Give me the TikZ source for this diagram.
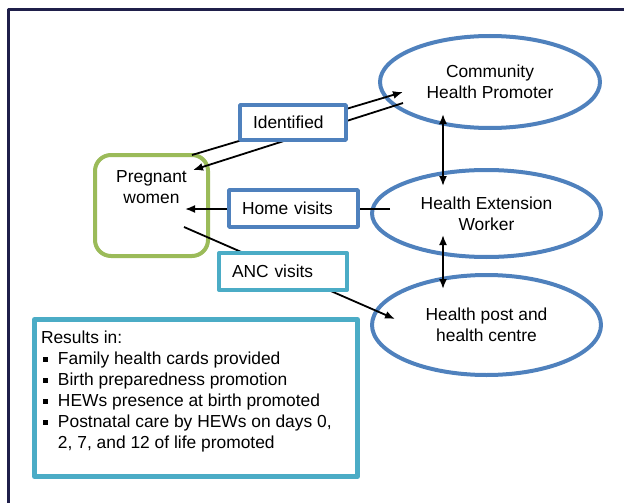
\documentclass[tikz,border=0pt]{standalone}
\usepackage{fontspec}
\setmainfont{Liberation Sans}
\usepackage{xcolor}
\usetikzlibrary{shapes,arrows,arrows.meta}
\definecolor{actorblue}{HTML}{4F81BD}
\definecolor{visitteal}{HTML}{4BACC6}
\definecolor{womengreen}{HTML}{9BBB59}
\definecolor{framenavy}{HTML}{1F1F4A}
\newcommand{\sqbullet}{\makebox[17pt][l]{\hspace{2pt}\rule[3pt]{5pt}{5pt}}}

\begin{document}
\begin{tikzpicture}
    [x=1pt,y=-1pt,line join=round,
     every node/.style={font=\fontsize{17.4}{21}\selectfont,outer sep=0pt},
     actor/.style={ellipse,draw=actorblue,line width=4pt,inner sep=0pt,align=center},
     visitbox/.style={rectangle,draw=actorblue,fill=white,line width=3.5pt,inner xsep=13pt,inner ysep=0pt,align=left},
     conn/.style={-{Latex[length=10pt,width=8pt]},line width=1.8pt},
     twoway/.style={{Latex[length=10pt,width=8pt]}-{Latex[length=10pt,width=8pt]},line width=1.8pt}]
\useasboundingbox (0,0) rectangle (624,503);
%outer frame
\draw[framenavy,line width=3pt] (8,503) -- (8,10) -- (624,10);

%the three actors
\node[actor,minimum width=220pt,minimum height=92pt] (chp) at (490,82) {Community\\Health Promoter};
\node[actor,minimum width=229pt,minimum height=87pt] (hew) at (486.5,213.5) {Health Extension\\Worker};
\node[actor,minimum width=229pt,minimum height=100pt] (hphc) at (486.5,325) {Health post and\\health centre};

%pregnant women
\node[draw=womengreen,line width=4pt,rounded corners=16pt,minimum width=113pt,minimum height=101pt,
      label={[anchor=north,yshift=-16pt,align=center,inner sep=0pt]north:{Pregnant\\women}}] (pw) at (151.5,205.5) {};

%connectors
\draw[conn] ([shift={(40.5,0)}]pw.north) -- ([shift={(-87,10)}]chp.center);
\draw[conn] ([shift={(-87,21)}]chp.center) -- ([shift={(41.5,-35.5)}]pw.center);
\draw[conn] ([shift={(-96.5,-4.5)}]hew.center) -- ([shift={(33.5,3.5)}]pw.center);
\draw[conn] ([shift={(32.5,21.5)}]pw.center) -- ([shift={(-91.5,-6)}]hphc.center);
\draw[twoway] ([shift={(-47,32)}]chp.center) -- ([shift={(-43.5,-27.5)}]hew.center);
\draw[twoway] ([shift={(-43.5,21.5)}]hew.center) -- ([shift={(-43.5,-36)}]hphc.center);

%boxes on the connectors
\node[visitbox,text width=80pt,minimum height=35pt] (ident) at (293,122.5) {Identified};
\node[visitbox,text width=103pt,minimum height=37pt] (home) at (293.5,208.5) {Home visits};
\node[visitbox,draw=visitteal,line width=4pt,text width=102pt,minimum height=37pt] (anc) at (283,271.5) {ANC visits};

%results
\node[draw=visitteal,line width=5pt,minimum width=323pt,minimum height=157pt,
      label={[anchor=north west,xshift=6.5pt,yshift=-11.5pt,align=left,inner sep=0pt]north west:{Results in:\\
      \sqbullet Family health cards provided\\
      \sqbullet Birth preparedness promotion\\
      \sqbullet HEWs presence at birth promoted\\
      \sqbullet Postnatal care by HEWs on days 0,\\
      \hspace*{17pt}2, 7, and 12 of life promoted}}] (res) at (196,398) {};
\end{tikzpicture}
\end{document}
